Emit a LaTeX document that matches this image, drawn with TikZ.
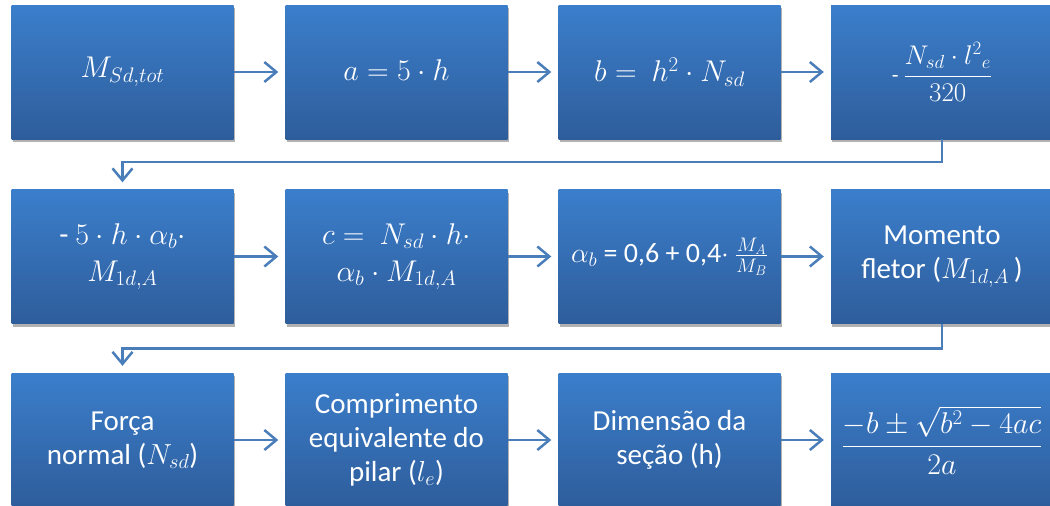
\RequirePackage{fix-cm}
\documentclass[tikz,border=0pt]{standalone}
\usepackage{amsmath}
\usepackage{fontspec}
\setmainfont{Carlito}
\usepackage{tikz}
\usetikzlibrary{arrows.meta,shadows}
\definecolor{boxtop}{RGB}{59,126,203}
\definecolor{boxbot}{RGB}{46,93,155}
\definecolor{linkblue}{RGB}{74,126,187}
\tikzset{
  stepbox/.style={rectangle,draw=none,top color=boxtop,bottom color=boxbot,
                  minimum width=222pt,minimum height=134pt,inner sep=4pt,align=center,
                  text=white,font=\fontsize{29}{34}\selectfont,
                  drop shadow={shadow xshift=1pt,shadow yshift=-3pt,opacity=0.3,fill=black}},
  mathbox/.style={stepbox,font=\fontsize{30}{37}\selectfont},
  flow/.style={-{Straight Barb[length=12pt,width=20pt]},draw=linkblue,line width=2.5pt,
               shorten >=7pt},
}

\begin{document}
\begin{tikzpicture}[x=1pt,y=-1pt]
  \path[use as bounding box] (0,0) rectangle (1050,506);

  % first row
  \node[mathbox] (MT) at (122.5,72) {$M_{Sd,tot}$};
  \node[mathbox] (A)  at (396.5,72) {\raisebox{4pt}{$a=5\cdot h$}};
  \node[mathbox] (B)  at (669.5,72) {$b=\ h^2\cdot N_{sd}$};
  \node[stepbox] (NL) at (942,72)
    {{\fontsize{22}{22}\selectfont -}\,{\fontsize{27}{27}\selectfont$\dfrac{N_{sd}\cdot l^2{}_e}{320}$}};
  \draw[flow] (MT.east)--(A.west);
  \draw[flow] (A.east)--(B.west);
  \draw[flow] (B.east)--(NL.west);

  % second row
  \node[mathbox] (C5) at (122.5,256.5) {-~$5\cdot h\cdot\alpha_b\cdot$\\$M_{1d,A}$};
  \node[mathbox] (C)  at (396.5,256.5) {$c=\ N_{sd}\cdot h\cdot$\\$\alpha_b\cdot M_{1d,A}$};
  \node[stepbox,font=\fontsize{28}{34}\selectfont] (AB) at (669.5,256.5)
    {$\alpha_b$ = 0,6 + 0,4$\cdot$\ $\frac{M_A}{M_B}$};
  \node[stepbox] (MF) at (942,256.5) {Momento\\fletor ($M_{1d,A}$\,)};
  \draw[flow] (NL.south)--++(0,23)-|(C5.north);
  \draw[flow] (C5.east)--(C.west);
  \draw[flow] (C.east)--(AB.west);
  \draw[flow] (AB.east)--(MF.west);

  % third row
  \node[stepbox] (NS) at (122.5,440) {Força\\normal ($N_{sd}$)};
  \node[stepbox] (LE) at (396.5,440) {Comprimento\\equivalente do\\pilar ($l_e$)};
  \node[stepbox] (H)  at (669.5,440) {Dimensão da\\seção (h)};
  \node[mathbox] (X)  at (942,440) {\raisebox{8pt}{$\dfrac{-b\pm\sqrt{b^2-4ac}}{2a}$}};
  \draw[flow] (MF.south)--++(0,25)-|(NS.north);
  \draw[flow] (NS.east)--(LE.west);
  \draw[flow] (LE.east)--(H.west);
  \draw[flow] (H.east)--(X.west);
\end{tikzpicture}
\end{document}
